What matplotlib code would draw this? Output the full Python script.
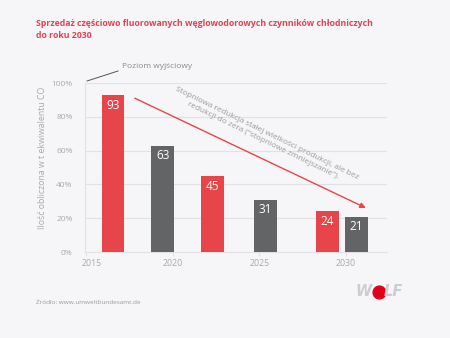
import matplotlib.pyplot as plt
import matplotlib.transforms as mtransforms

plt.rcParams['font.family'] = ['Open Sans', 'DejaVu Sans']

# bar positions (years on a linear axis) and values
bar_x = [2016.56, 2019.42, 2022.28, 2025.36, 2028.93, 2030.62]
values = [93, 63, 45, 31, 24, 21]
bar_colors = ['#e8454a', '#636466', '#e8454a', '#636466', '#e8454a', '#636466']
year_ticks = [2015, 2020, 2025, 2030]
pct_ticks = [0, 20, 40, 60, 80, 100]

bg = '#f6f6f8'
grid_c = '#e2e2e6'
txt_c = '#a9a9ad'

fig = plt.figure(figsize=(4.5, 3.38), dpi=100, facecolor=bg)
ax = fig.add_axes([0.189, 0.2544, 0.671, 0.5])
ax.set_facecolor(bg)

ax.bar(bar_x, values, width=1.31, color=bar_colors, zorder=3)
for x, v in zip(bar_x, values):
    ax.text(x, v - 2.2, str(v), ha='center', va='top', color='white',
            fontsize=8.5, zorder=4)

ax.set_xlim(2014.94, 2032.37)
ax.set_ylim(0, 100)
ax.set_yticks(pct_ticks)
ax.set_yticklabels([f'{p}%' for p in pct_ticks])
ax.set_xticks(year_ticks)
ax.set_xticklabels([str(y) for y in year_ticks])
ax.yaxis.grid(True, color=grid_c, linewidth=0.8, zorder=0)
ax.tick_params(axis='y', length=0, pad=9, labelsize=6, labelcolor=txt_c)
ax.tick_params(axis='x', length=3, color=grid_c, pad=2, labelsize=6.3,
               labelcolor=txt_c)
# first year label sits a bit right of the axis corner
lbl = ax.get_xticklabels()[0]
lbl.set_transform(lbl.get_transform() +
                  mtransforms.ScaledTranslation(6 / 100, 0, fig.dpi_scale_trans))
for s in ['top', 'right']:
    ax.spines[s].set_visible(False)
for s in ['left', 'bottom']:
    ax.spines[s].set_color(grid_c)
    ax.spines[s].set_linewidth(0.8)

ax.set_ylabel('Ilość obliczona w t ekwiwalentu CO', fontsize=6.3,
              color=txt_c)
ax.yaxis.set_label_coords(-0.125, 0.555)

# reduction arrow
ax.annotate('', xy=(2031.29, 25.4), xytext=(2017.67, 91.7),
            arrowprops=dict(arrowstyle='-|>', color='#e8454a', lw=1.0,
                            mutation_scale=8), zorder=5)
ax.text(2025.3, 68.3,
        'Stopniowa redukcja stałej wielkości produkcji, ale bez\n'
        'redukcji do zera ("stopniowe zmniejszanie").',
        rotation=-26, ha='center', va='center', rotation_mode='anchor',
        multialignment='center', fontsize=5.9, color='#9a9a9e',
        linespacing=1.25, zorder=5)

# baseline note
fig.add_artist(plt.Line2D([87 / 450, 118 / 450], [1 - 81 / 338, 1 - 71 / 338],
                          color='#555555', lw=0.7))
fig.text(122 / 450, 1 - 66 / 338, 'Poziom wyjściowy', fontsize=6,
         color='#8a8a8e', va='center')

fig.text(36 / 450, 1 - 24 / 338,
         'Sprzedaż częściowo fluorowanych węglowodorowych czynników chłodniczych',
         fontsize=6.3, fontweight='bold', color='#e04452', va='center')
fig.text(36 / 450, 1 - 36 / 338, 'do roku 2030', fontsize=6.3,
         fontweight='bold', color='#e04452', va='center')

fig.text(36 / 450, 1 - 303 / 338, 'Źródło: www.umweltbundesamt.de',
         fontsize=4.6, color='#9a9a9e', va='center')

# logo
fig.text(355 / 450, 1 - 292 / 338, 'W', fontsize=10.5, fontweight='bold',
         style='italic', color='#cdcdd0', va='center',
         family=['DejaVu Sans'])
fig.text(384 / 450, 1 - 292 / 338, 'LF', fontsize=10.5, fontweight='bold',
         style='italic', color='#cdcdd0', va='center',
         family=['DejaVu Sans'])
fig.add_artist(plt.Line2D([378.5 / 450], [1 - 291.5 / 338], marker='o',
                          markersize=9.2, color='#e2001a', lw=0))

fig.savefig('out.png', dpi=100, facecolor=bg)
